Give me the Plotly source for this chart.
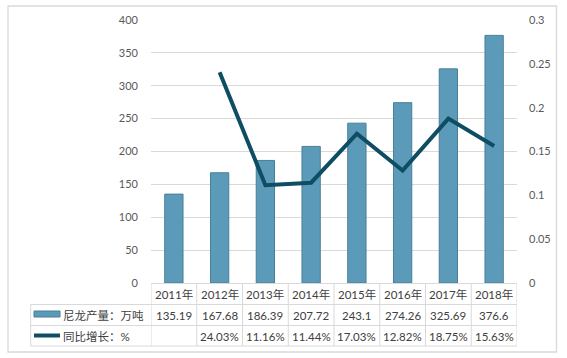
import plotly.graph_objects as go

years = ["2011年", "2012年", "2013年", "2014年", "2015年", "2016年", "2017年", "2018年"]
production = [135.19, 167.68, 186.39, 207.72, 243.1, 274.26, 325.69, 376.6]
growth = [None, 0.2403, 0.1116, 0.1144, 0.1703, 0.1282, 0.1875, 0.1563]
series_names = ["尼龙产量：万吨", "同比增长：%"]

W, H = 567, 358
L, R, T, B = 151, 50, 20, 75
PW, PH = W - L - R, H - T - B

def px_x(x):
    return (x - L) / PW

def px_y(y):
    return (H - B - y) / PH

FONT = "Lato, Noto Sans CJK SC, sans-serif"
TXT = "#404040"
GRID = "#d9d9d9"
BAR = "#5b9bb9"
LINE = "#0f4d63"

fig = go.Figure()
fig.add_bar(x=years, y=production, name=series_names[0], width=0.4,
            marker=dict(color=BAR, line=dict(color="#497f95", width=1)), yaxis="y")
fig.add_scatter(x=years, y=growth, name=series_names[1], mode="lines",
                line=dict(color=LINE, width=4), yaxis="y2", connectgaps=False)

shapes = []
annotations = []
n = len(years)
# outer border
shapes.append(dict(type="rect", xref="paper", yref="paper",
                   x0=px_x(8), x1=px_x(556.5), y0=px_y(352), y1=px_y(6),
                   line=dict(color=GRID, width=1.3), layer="below"))
row_y = [283.5, 304.5, 325.5, 346]
# horizontal table lines
shapes.append(dict(type="line", xref="x", yref="paper", x0=-0.5, x1=n - 0.5,
                   y0=px_y(row_y[0]), y1=px_y(row_y[0]), line=dict(color=GRID, width=1)))
for yy in row_y[1:]:
    shapes.append(dict(type="line", xref="paper", yref="paper", x0=px_x(30.7), x1=1,
                       y0=px_y(yy), y1=px_y(yy), line=dict(color=GRID, width=1)))
# vertical table lines
for k in range(n + 1):
    shapes.append(dict(type="line", xref="x", yref="paper", x0=k - 0.5, x1=k - 0.5,
                       y0=px_y(row_y[0]), y1=px_y(row_y[3]), line=dict(color=GRID, width=1)))
shapes.append(dict(type="line", xref="paper", yref="paper", x0=px_x(30.7), x1=px_x(30.7),
                   y0=px_y(row_y[1]), y1=px_y(row_y[3]), line=dict(color=GRID, width=1)))
# legend keys
shapes.append(dict(type="rect", xref="paper", yref="paper",
                   x0=px_x(34), x1=px_x(60), y0=px_y(317), y1=px_y(311),
                   fillcolor=BAR, line=dict(color="#497f95", width=1)))
shapes.append(dict(type="line", xref="paper", yref="paper",
                   x0=px_x(34), x1=px_x(60), y0=px_y(335.5), y1=px_y(335.5),
                   line=dict(color=LINE, width=4)))

tf = dict(size=11.5, color=TXT, family=FONT)
for i, yr in enumerate(years):
    annotations.append(dict(x=yr, xref="x", y=px_y(294), yref="paper", text=yr,
                            xanchor="center", yanchor="middle", showarrow=False, font=tf))
    annotations.append(dict(x=yr, xref="x", y=px_y(315), yref="paper", text=str(production[i]),
                            xanchor="center", yanchor="middle", showarrow=False, font=tf))
    if growth[i] is not None:
        annotations.append(dict(x=yr, xref="x", y=px_y(336), yref="paper",
                                text=f"{growth[i]*100:.2f}%",
                                xanchor="center", yanchor="middle", showarrow=False, font=tf))
annotations.append(dict(x=px_x(61), xref="paper", y=px_y(315), yref="paper", text=series_names[0],
                        xanchor="left", yanchor="middle", showarrow=False, font=tf))
annotations.append(dict(x=px_x(61), xref="paper", y=px_y(336), yref="paper", text=series_names[1],
                        xanchor="left", yanchor="middle", showarrow=False, font=tf))

fig.update_layout(
    width=W, height=H,
    margin=dict(l=L, r=R, t=T, b=B),
    paper_bgcolor="white", plot_bgcolor="white",
    showlegend=False,
    bargap=0.6,
    font=dict(family=FONT, size=11, color="#595959"),
    xaxis=dict(type="category", showticklabels=False, showgrid=False, zeroline=False,
               showline=False, ticks="", range=[-0.5, n - 0.5]),
    yaxis=dict(range=[0, 400], dtick=50, showgrid=True, gridcolor=GRID, gridwidth=1,
               zeroline=False, showline=False, ticks="", ticklabelstandoff=12,
               tickfont=dict(size=11, color="#595959", family=FONT)),
    yaxis2=dict(range=[0, 0.3], dtick=0.05, overlaying="y", side="right", showgrid=False,
                zeroline=False, showline=False, ticks="", ticklabelstandoff=11,
                tickfont=dict(size=11, color="#595959", family=FONT)),
    shapes=shapes,
    annotations=annotations,
)

fig.write_html("out.html", config={"displayModeBar": False},
               post_script="document.body.style.margin='0';document.body.style.overflow='hidden';")
